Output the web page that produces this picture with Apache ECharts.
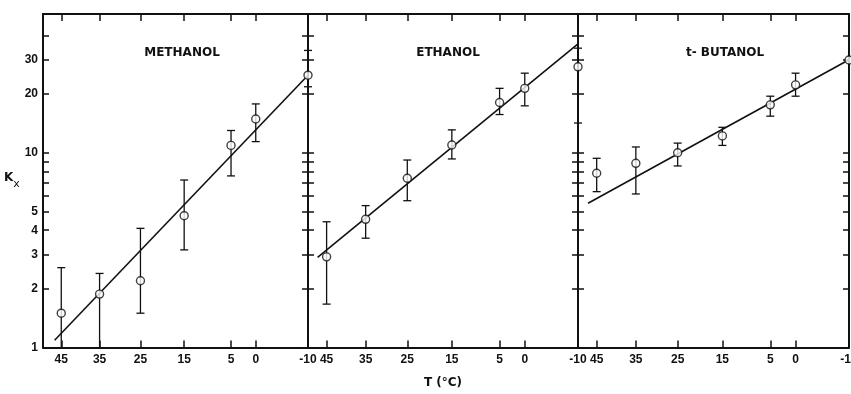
<!DOCTYPE html>
<html>
<head>
<meta charset="utf-8">
<script src="https://cdn.jsdelivr.net/npm/echarts@6/dist/echarts.min.js"></script>
<style>
  html, body { margin: 0; background: #fff; }
  #chart { width: 851px; height: 394px; }
</style>
</head>
<body>
<div id="chart"></div>
<script>
// axis ticks
var tempTicks = [45, 35, 25, 15, 5, 0, -10];
var kLabelTicks = [1, 2, 3, 4, 5, 10, 20, 30];
var kTicks = [1, 2, 3, 4, 5, 6, 7, 8, 9, 10, 20, 30, 40];
var panelNames = ['METHANOL', 'ETHANOL', 't- BUTANOL'];

// methanol
var methanolT = [45, 35, 25, 15, 5, 0, -10];
var methanolK = [1.50, 1.88, 2.20, 4.75, 10.9, 14.9, 25.0];
var methanolLow = [1.0, 1.0, 1.50, 3.17, 7.6, 11.4, 21.8];
var methanolHigh = [2.57, 2.40, 4.09, 7.24, 13.0, 17.8, 33.5];
var methanolFitT = [46.8, -10];
var methanolFitK = [1.09, 25.0];

// ethanol
var ethanolT = [45, 35, 25, 15, 5, 0, -10];
var ethanolK = [2.92, 4.55, 7.39, 10.95, 18.1, 21.4, 27.6];
var ethanolLow = [1.67, 3.64, 5.67, 9.29, 15.7, 17.4, 14.2];
var ethanolHigh = [4.42, 5.35, 9.17, 13.1, 21.4, 25.6, 34.4];
var ethanolFitT = [47.4, -10];
var ethanolFitK = [2.90, 36.2];

// t-butanol
var butanolT = [45, 35, 25, 15, 5, 0, -10];
var butanolK = [7.84, 8.82, 10.0, 12.2, 17.6, 22.3, 29.9];
var butanolLow = [6.31, 6.14, 8.55, 10.9, 15.4, 19.5, null];
var butanolHigh = [9.36, 10.7, 11.2, 13.5, 19.5, 25.6, null];
var butanolFitT = [47.3, -10];
var butanolFitK = [5.50, 30.0];

var panels = [
    {T: methanolT, K: methanolK, lo: methanolLow, hi: methanolHigh, fitT: methanolFitT, fitK: methanolFitK},
    {T: ethanolT, K: ethanolK, lo: ethanolLow, hi: ethanolHigh, fitT: ethanolFitT, fitK: ethanolFitK},
    {T: butanolT, K: butanolK, lo: butanolLow, hi: butanolHigh, fitT: butanolFitT, fitK: butanolFitK}
];

// x is 1000/T(K), y is log10 K
function invT(t) { return 1000 / (t + 273.15); }
function lg(k) { return Math.log10(k); }

var xMin = invT(50), xMax = invT(-10);
var yMin = 0, yMax = 1.712;
var ink = '#111';
var font = 'DejaVu Sans';
var tickFont = 'Liberation Sans';

var gridBoxes = [
    {left: 43, width: 265},
    {left: 308, width: 270},
    {left: 578, width: 271}
];

var chart = echarts.init(document.getElementById('chart'));

var grids = [], xAxes = [], yAxes = [], series = [], titles = [];
var titleX = [177, 443, 720];

function renderErrorBar(params, api) {
    var x = api.value(0);
    var lo = api.coord([x, api.value(1)]);
    var hi = api.coord([x, api.value(2)]);
    var st = {stroke: ink, lineWidth: 1.3};
    var kids = [
        {type: 'line', shape: {x1: lo[0], y1: lo[1], x2: hi[0], y2: hi[1]}, style: st},
        {type: 'line', shape: {x1: hi[0] - 4, y1: hi[1], x2: hi[0] + 4, y2: hi[1]}, style: st}
    ];
    if (api.value(1) > 0.0001) {
        kids.push({type: 'line', shape: {x1: lo[0] - 4, y1: lo[1], x2: lo[0] + 4, y2: lo[1]}, style: st});
    }
    return {type: 'group', children: kids};
}

panels.forEach(function (p, i) {
    grids.push({
        left: gridBoxes[i].left, width: gridBoxes[i].width, top: 14, bottom: 46.5,
        outerBoundsMode: 'none', containLabel: false
    });

    var tickVals = tempTicks.map(invT);
    var xBase = {
        type: 'value', gridIndex: i, min: xMin, max: xMax,
        axisLine: {onZero: false, lineStyle: {color: ink, width: 2}},
        splitLine: {show: false}
    };
    xAxes.push(Object.assign({}, xBase, {
        position: 'bottom',
        axisTick: {inside: true, length: 7, lineStyle: {color: ink, width: 1.5}, customValues: tickVals},
        axisLabel: {
            customValues: tickVals, margin: 6, color: ink,
            fontFamily: tickFont, fontSize: 12, fontWeight: 'bold',
            formatter: function (v) { return String(Math.round(1000 / v - 273.15)); }
        },
        name: i === 1 ? 'T (°C)' : '',
        nameLocation: 'middle', nameGap: 29,
        nameTextStyle: {color: ink, fontFamily: font, fontSize: 12, fontWeight: 'bold'}
    }));
    xAxes.push(Object.assign({}, xBase, {
        position: 'top',
        axisTick: {inside: true, length: 7, lineStyle: {color: ink, width: 1.5}, customValues: tickVals},
        axisLabel: {show: false}
    }));

    var yTickVals = kTicks.map(lg);
    var yBase = {
        type: 'value', gridIndex: i, min: yMin, max: yMax,
        axisLine: {show: true, onZero: false, lineStyle: {color: ink, width: 2}},
        axisTick: {show: true, inside: true, length: 6, lineStyle: {color: ink, width: 1.5}, customValues: yTickVals},
        splitLine: {show: false}
    };
    yAxes.push(Object.assign({}, yBase, {
        position: 'left',
        axisLabel: i === 0 ? {
            customValues: kLabelTicks.map(lg), margin: 5, color: ink,
            fontFamily: tickFont, fontSize: 12, fontWeight: 'bold',
            formatter: function (v) { return String(Math.round(Math.pow(10, v))); }
        } : {show: false},
        name: i === 0 ? '{k|K}{s|x}' : '',
        nameLocation: 'middle', nameRotate: 0, nameGap: 3,
        nameTextStyle: {
            color: ink, fontFamily: font,
            rich: {
                k: {fontSize: 12, fontWeight: 'bold', lineHeight: 18, verticalAlign: 'top', color: ink, fontFamily: font},
                s: {fontSize: 11, lineHeight: 18, verticalAlign: 'bottom', color: ink, fontFamily: font}
            }
        }
    }));
    yAxes.push(Object.assign({}, yBase, {
        position: 'right',
        axisLabel: {show: false}
    }));

    var xi = i * 2, yi = i * 2;

    series.push({
        type: 'line', xAxisIndex: xi, yAxisIndex: yi,
        data: p.fitT.map(function (t, j) { return [invT(t), lg(p.fitK[j])]; }),
        showSymbol: false, symbol: 'none',
        lineStyle: {color: ink, width: 1.6},
        z: 2, silent: true
    });

    var errData = [];
    p.T.forEach(function (t, j) {
        if (p.lo[j] != null) errData.push([invT(t), lg(p.lo[j]), lg(p.hi[j])]);
    });
    series.push({
        type: 'custom', xAxisIndex: xi, yAxisIndex: yi,
        renderItem: renderErrorBar,
        encode: {x: 0, y: [1, 2]},
        data: errData, z: 3, silent: true
    });

    series.push({
        type: 'scatter', xAxisIndex: xi, yAxisIndex: yi,
        data: p.T.map(function (t, j) { return [invT(t), lg(p.K[j])]; }),
        symbol: 'circle', symbolSize: 8,
        itemStyle: {color: '#fff', borderColor: ink, borderWidth: 1.4},
        z: 4, silent: true
    });

    titles.push({
        text: panelNames[i], left: titleX[i], top: 42, textAlign: 'center',
        textStyle: {color: ink, fontFamily: font, fontSize: 12, fontWeight: 'bold'}
    });
});

chart.setOption({
    animation: false,
    backgroundColor: '#fff',
    title: titles,
    grid: grids,
    xAxis: xAxes,
    yAxis: yAxes,
    series: series
});
</script>
</body>
</html>
